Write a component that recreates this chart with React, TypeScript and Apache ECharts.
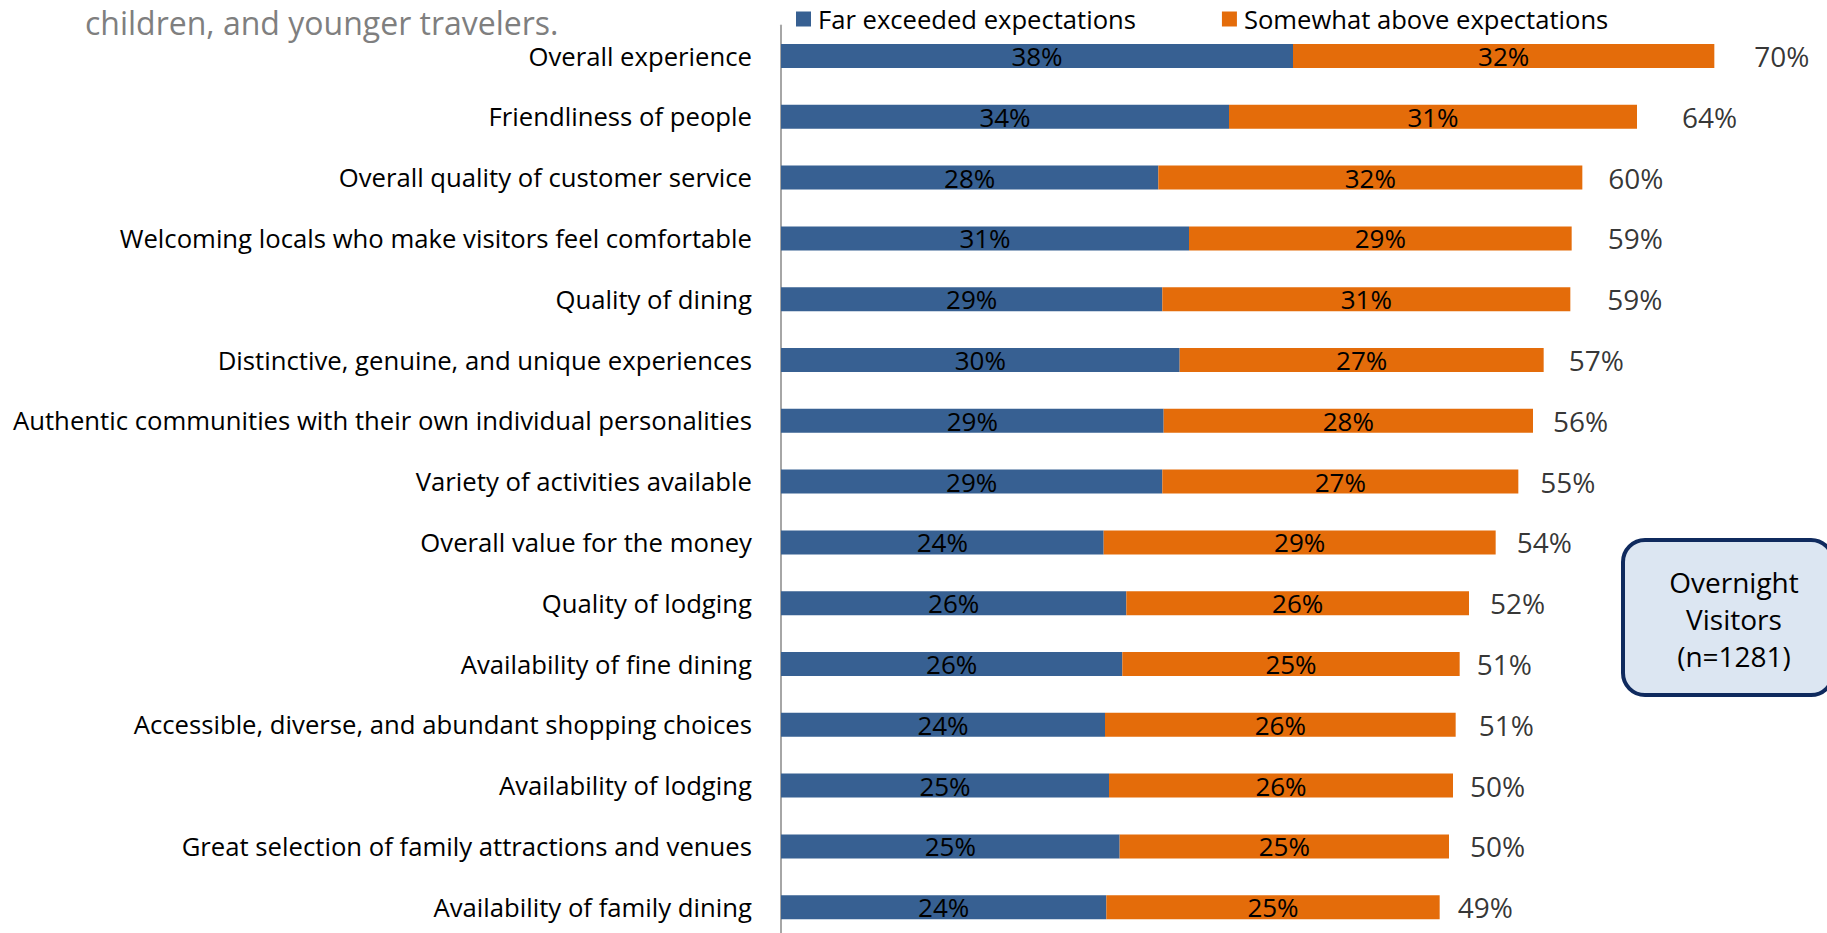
import React, { useEffect, useRef } from "react";
import * as echarts from "echarts";

const categories = [
  "Overall experience",
  "Friendliness of people",
  "Overall quality of customer service",
  "Welcoming locals who make visitors feel comfortable",
  "Quality of dining",
  "Distinctive, genuine, and unique experiences",
  "Authentic communities with their own individual personalities",
  "Variety of activities available",
  "Overall value for the money",
  "Quality of lodging",
  "Availability of fine dining",
  "Accessible, diverse, and abundant shopping choices",
  "Availability of lodging",
  "Great selection of family attractions and venues",
  "Availability of family dining",
];

const farExceeded = [38.4, 33.6, 28.3, 30.6, 28.6, 29.9, 28.7, 28.6, 24.2, 25.9, 25.6, 24.3, 24.6, 25.4, 24.4];
const somewhatAbove = [31.6, 30.6, 31.8, 28.7, 30.6, 27.3, 27.7, 26.7, 29.4, 25.7, 25.3, 26.3, 25.8, 24.7, 25.0];

const seriesNames = ["Far exceeded expectations", "Somewhat above expectations"];
const titleText = "children, and younger travelers.";
const boxLines = ["Overnight", "Visitors", "(n=1281)"];

// layout: gap (px) between each bar end and its total label, as placed in the reference
const totalLabelGap = [40, 45, 26, 36, 37, 25, 20, 22, 21, 21, 17, 23, 17, 21, 18];

const FONT = "'Open Sans', 'Noto Sans', sans-serif";

export default function App() {
  const ref = useRef<HTMLDivElement>(null);

  useEffect(() => {
    if (!ref.current) return;
    const chart = echarts.init(ref.current, undefined, { renderer: "svg" });
    const totals = farExceeded.map((v, i) => v + somewhatAbove[i]);
    const pct = (v: number) => Math.round(v) + "%";

    const insideLabel = {
      show: true,
      position: "inside",
      color: "#000",
      fontSize: 26,
      fontFamily: FONT,
      textBorderWidth: 0,
      formatter: (p: any) => pct(p.value),
    };

    chart.setOption({
      animation: false,
      backgroundColor: "#ffffff",
      textStyle: { fontFamily: FONT },
      legend: {
        left: 796,
        top: 6,
        padding: 0,
        icon: "rect",
        itemWidth: 15,
        itemHeight: 15,
        itemGap: 86,
        data: seriesNames,
        textStyle: { fontSize: 25.6, color: "#000", fontFamily: FONT, padding: [0, 0, 0, 2] },
      },
      grid: { left: 781, top: 25.6, width: 1000, height: 912, containLabel: false },
      xAxis: {
        type: "value",
        min: 0,
        max: 75,
        show: false,
        splitLine: { show: false },
      },
      yAxis: {
        type: "category",
        inverse: true,
        data: categories,
        axisLine: { show: true, lineStyle: { color: "#a6a6a6", width: 2 } },
        axisTick: { show: false },
        axisLabel: { fontSize: 25.7, color: "#000", margin: 29, fontFamily: FONT },
      },
      series: [
        {
          name: seriesNames[0],
          type: "bar",
          stack: "total",
          barWidth: 24,
          data: farExceeded,
          itemStyle: { color: "#376092" },
          label: insideLabel,
        },
        {
          name: seriesNames[1],
          type: "bar",
          stack: "total",
          barWidth: 24,
          data: somewhatAbove,
          itemStyle: { color: "#e46c0a" },
          label: insideLabel,
        },
        {
          name: "Total",
          type: "scatter",
          symbolSize: 0,
          silent: true,
          data: totals.map((t, i) => ({
            value: [t, i],
            label: { distance: totalLabelGap[i] },
          })),
          label: {
            show: true,
            position: "right",
            distance: 20,
            color: "#000",
            fontSize: 28,
            fontFamily: FONT,
            formatter: (p: any) => pct(p.value[0]),
          },
        },
      ],
      graphic: [
        {
          type: "text",
          left: 85,
          top: 6,
          style: {
            text: titleText,
            fill: "#7f7f7f",
            font: `32px ${FONT}`,
          },
        },
        {
          type: "rect",
          shape: { x: 1623, y: 540, width: 210, height: 155, r: 22 },
          style: { fill: "#dce6f2", stroke: "#0f2a5e", lineWidth: 4 },
        },
        {
          type: "text",
          x: 1734,
          y: 619,
          style: {
            text: boxLines.join("\n"),
            fill: "#000",
            font: `28px ${FONT}`,
            lineHeight: 37,
            align: "center",
            verticalAlign: "middle",
          },
        },
      ],
    });

    return () => chart.dispose();
  }, []);

  return (
    <div
      ref={ref}
      style={{ position: "fixed", left: 0, top: 0, width: 1827, height: 945 }}
    />
  );
}
